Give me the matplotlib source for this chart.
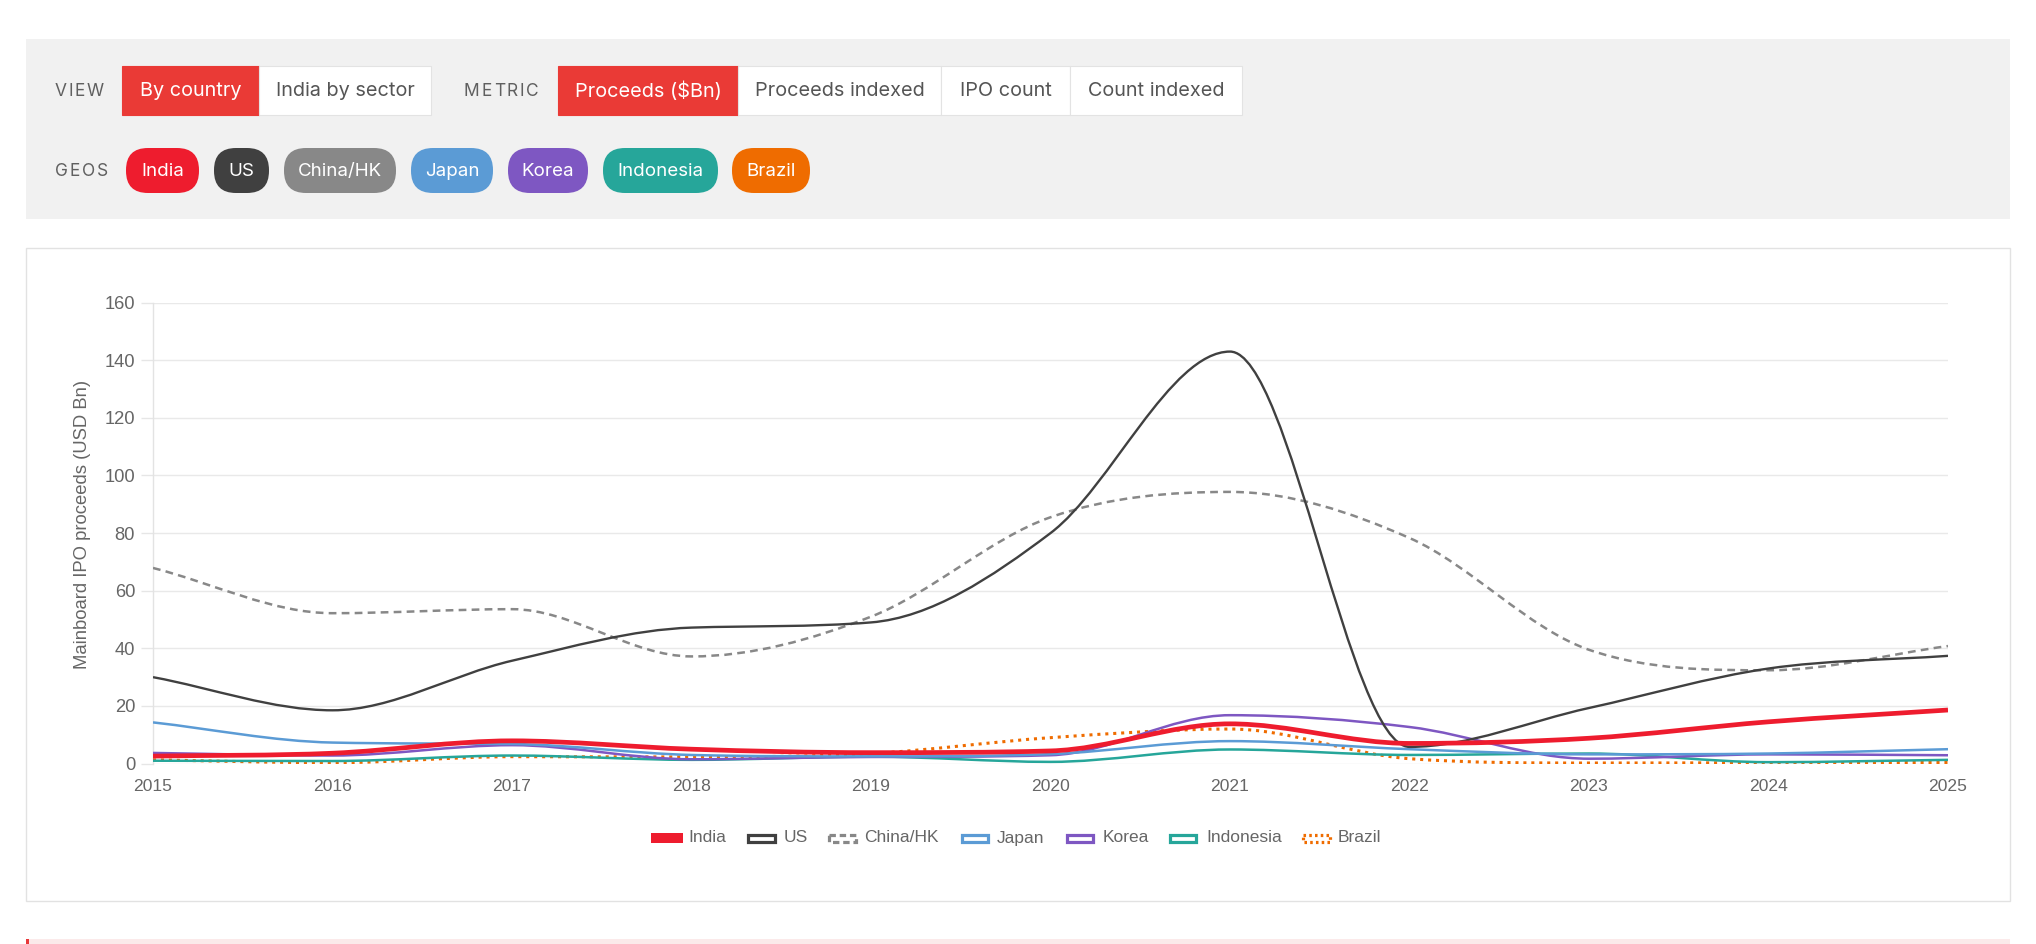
import numpy as np
import matplotlib
matplotlib.use("Agg")
import matplotlib.pyplot as plt
from matplotlib.path import Path
from matplotlib.patches import PathPatch, Rectangle, FancyBboxPatch

# ---------------- data ----------------
years = [2015, 2016, 2017, 2018, 2019, 2020, 2021, 2022, 2023, 2024, 2025]
india = [2.6, 3.6, 7.9, 5.0, 3.8, 4.4, 13.8, 7.0, 8.8, 14.5, 18.6]
us = [30.0, 18.5, 35.7, 47.2, 49.0, 80.0, 143.0, 5.8, 19.3, 33.0, 37.4]
china_hk = [67.9, 52.2, 53.6, 37.2, 51.0, 85.5, 94.3, 78.3, 39.5, 32.4, 40.8]
japan = [14.3, 7.3, 6.8, 3.0, 2.5, 3.3, 7.8, 5.0, 3.2, 3.5, 5.0]
korea = [3.7, 2.8, 6.4, 1.5, 2.3, 2.9, 16.8, 12.7, 1.7, 3.2, 2.9]
indonesia = [1.0, 0.9, 2.8, 1.3, 2.4, 0.6, 4.9, 3.0, 3.5, 0.5, 1.3]
brazil = [1.3, 0.3, 2.4, 2.3, 3.5, 9.0, 12.0, 1.7, 0.2, 0.3, 0.4]

series_names = ["India", "US", "China/HK", "Japan", "Korea", "Indonesia", "Brazil"]
series_values = [india, us, china_hk, japan, korea, indonesia, brazil]
series_colors = ["#EE1C2E", "#404040", "#888888", "#5B9BD5", "#7E57C2", "#26A69A", "#EF6C00"]

y_ticks = [0, 20, 40, 60, 80, 100, 120, 140, 160]
y_label = "Mainboard IPO proceeds (USD Bn)"

view_buttons = ["By country", "India by sector"]
metric_buttons = ["Proceeds ($Bn)", "Proceeds indexed", "IPO count", "Count indexed"]

# ---------------- figure ----------------
W, H = 2036, 944
fig = plt.figure(figsize=(W / 100, H / 100), dpi=100)
fig.patch.set_facecolor("white")

bg = fig.add_axes([0, 0, 1, 1])
bg.set_xlim(0, W)
bg.set_ylim(H, 0)
bg.axis("off")
bg.set_zorder(0)

UI = ["Inter", "DejaVu Sans"]
CH = ["Liberation Sans", "DejaVu Sans"]

# control panel
bg.add_patch(Rectangle((26, 39), 1984, 180, facecolor="#F1F1F1", edgecolor="none"))
# chart card
bg.add_patch(Rectangle((26, 248), 1984, 653, facecolor="white", edgecolor="#E2E2E2", lw=1.0))
# bottom strip
bg.add_patch(Rectangle((26, 939), 1984, 6, facecolor="#FBEAEA", edgecolor="none"))
bg.add_patch(Rectangle((26, 939), 3, 6, facecolor="#E8383A", edgecolor="none"))

renderer = fig.canvas.get_renderer()


def spaced_text(x0, y, s, target_w, **kw):
    objs = []
    widths = []
    for ch in s:
        t = bg.text(0, y, ch, **kw)
        w = t.get_window_extent(renderer).width
        objs.append(t)
        widths.append(w)
    gap = (target_w - sum(widths)) / max(len(s) - 1, 1)
    x = x0
    for t, w in zip(objs, widths):
        t.set_x(x)
        x += w + gap


lab_kw = dict(fontsize=12.5, color="#606060", va="center", ha="left", family=UI)
spaced_text(55, 91, "VIEW", 49, **lab_kw)
spaced_text(464, 91, "METRIC", 75, **lab_kw)
spaced_text(55, 171, "GEOS", 53, **lab_kw)

# buttons row
view_x = [(122, 259), (259, 431)]
metric_x = [(558, 738), (738, 941), (941, 1070), (1070, 1242)]
for labels, xs in ((view_buttons, view_x), (metric_buttons, metric_x)):
    for i, (lab, (a, b)) in enumerate(zip(labels, xs)):
        active = i == 0
        bg.add_patch(Rectangle((a, 66), b - a, 49,
                               facecolor="#EA3A36" if active else "white",
                               edgecolor="#EA3A36" if active else "#E3E3E3", lw=0.8))
        bg.text((a + b) / 2, 91, lab, fontsize=14.3, family=UI,
                color="white" if active else "#555555", ha="center", va="center")

# geo pills
pill_x = [(126, 199), (214, 269), (284, 396), (411, 493), (508, 588), (603, 718), (732, 810)]
for name, col, (a, b) in zip(series_names, series_colors, pill_x):
    h = 45
    bg.add_patch(FancyBboxPatch((a, 148), b - a, h,
                                boxstyle="round,pad=0,rounding_size=22",
                                facecolor=col, edgecolor="none"))
    bg.text((a + b) / 2, 171, name, fontsize=13.5, family=UI, color="white",
            ha="center", va="center")

# ---------------- chart ----------------
X0, X1, YT, YB = 153, 1948, 302.6, 763.6
ax = fig.add_axes([X0 / W, (H - YB) / H, (X1 - X0) / W, (YB - YT) / H])
ax.set_zorder(1)
ax.patch.set_alpha(0)
ax.set_xlim(years[0], years[-1])
ax.set_ylim(0, 160)


def monotone_path(xs, ys, ymin=0.0, ymax=160.0):
    """Monotone cubic (Fritsch-Carlson) curve as Bezier segments."""
    x = np.asarray(xs, float)
    y = np.asarray(ys, float)
    n = len(x)
    dk = np.diff(y) / np.diff(x)
    mk = np.zeros(n)
    mk[0] = dk[0]
    mk[-1] = dk[-1]
    for i in range(1, n - 1):
        if np.sign(dk[i - 1]) != np.sign(dk[i]):
            mk[i] = 0.0
        else:
            mk[i] = (dk[i - 1] + dk[i]) / 2
    for i in range(n - 1):
        if abs(dk[i]) < 1e-12:
            mk[i] = mk[i + 1] = 0.0
            continue
        a = mk[i] / dk[i]
        b = mk[i + 1] / dk[i]
        sq = a * a + b * b
        if sq <= 9:
            continue
        tau = 3 / np.sqrt(sq)
        mk[i] = a * tau * dk[i]
        mk[i + 1] = b * tau * dk[i]
    verts = [(x[0], y[0])]
    codes = [Path.MOVETO]
    for i in range(n - 1):
        d = (x[i + 1] - x[i]) / 3
        c1 = (x[i] + d, np.clip(y[i] + d * mk[i], ymin, ymax))
        c2 = (x[i + 1] - d, np.clip(y[i + 1] - d * mk[i + 1], ymin, ymax))
        verts += [c1, c2, (x[i + 1], y[i + 1])]
        codes += [Path.CURVE4] * 3
    return Path(verts, codes)


styles = {
    "India": dict(lw=3.4, ls="-"),
    "US": dict(lw=1.7, ls="-"),
    "China/HK": dict(lw=1.8, ls=(0, (3.1, 2.1))),
    "Japan": dict(lw=1.8, ls="-"),
    "Korea": dict(lw=1.8, ls="-"),
    "Indonesia": dict(lw=1.8, ls="-"),
    "Brazil": dict(lw=2.2, ls=(0, (1.0, 1.6))),
}

for k, (name, vals, col) in enumerate(zip(series_names, series_values, series_colors)):
    st = styles[name]
    patch = PathPatch(monotone_path(years, vals), facecolor="none", edgecolor=col,
                      lw=st["lw"], linestyle=st["ls"], zorder=20 - k,
                      capstyle="butt", joinstyle="round")
    ax.add_patch(patch)

ax.set_yticks(y_ticks)
ax.set_xticks(years)
ax.set_xticklabels([str(y) for y in years])
ax.grid(axis="y", color="#E9E9E9", lw=1.0)
ax.set_axisbelow(True)
for sp in ("top", "right", "bottom"):
    ax.spines[sp].set_visible(False)
ax.spines["left"].set_color("#E3E3E3")
ax.spines["left"].set_linewidth(1.0)
ax.tick_params(axis="y", length=8.6, width=1.0, color="#E6E6E6", pad=4.3,
               labelsize=13.2, labelcolor="#666666")
ax.tick_params(axis="x", length=0, pad=11, labelsize=12.6, labelcolor="#666666")
for lab in ax.get_xticklabels() + ax.get_yticklabels():
    lab.set_family(CH)

bg.text(83, 524, y_label, rotation=90, fontsize=13.3, family=CH, color="#666666",
        ha="center", va="center")

# ---------------- legend ----------------
leg_box = [(651, 683), (747, 777), (828, 858), (961, 990), (1066, 1095), (1169, 1198), (1302, 1332)]
leg_txt = [688, 784, 864, 997, 1103, 1206, 1338]
ly = 838
for name, col, (a, b), tx in zip(series_names, series_colors, leg_box, leg_txt):
    if name == "India":
        bg.add_patch(Rectangle((a, ly - 5), b - a, 10, facecolor=col, edgecolor="none"))
    else:
        ls = "-"
        if name == "China/HK":
            ls = (0, (2.0, 1.2))
        elif name == "Brazil":
            ls = (0, (0.8, 1.0))
        bg.add_patch(Rectangle((a + 1.5, ly - 3.5), b - a - 3, 7, facecolor="white",
                               edgecolor=col, lw=2.3, linestyle=ls))
    bg.text(tx, ly, name, fontsize=12.5, family=CH, color="#666666", ha="left", va="center")

fig.savefig("out.png", dpi=100, facecolor="white")
